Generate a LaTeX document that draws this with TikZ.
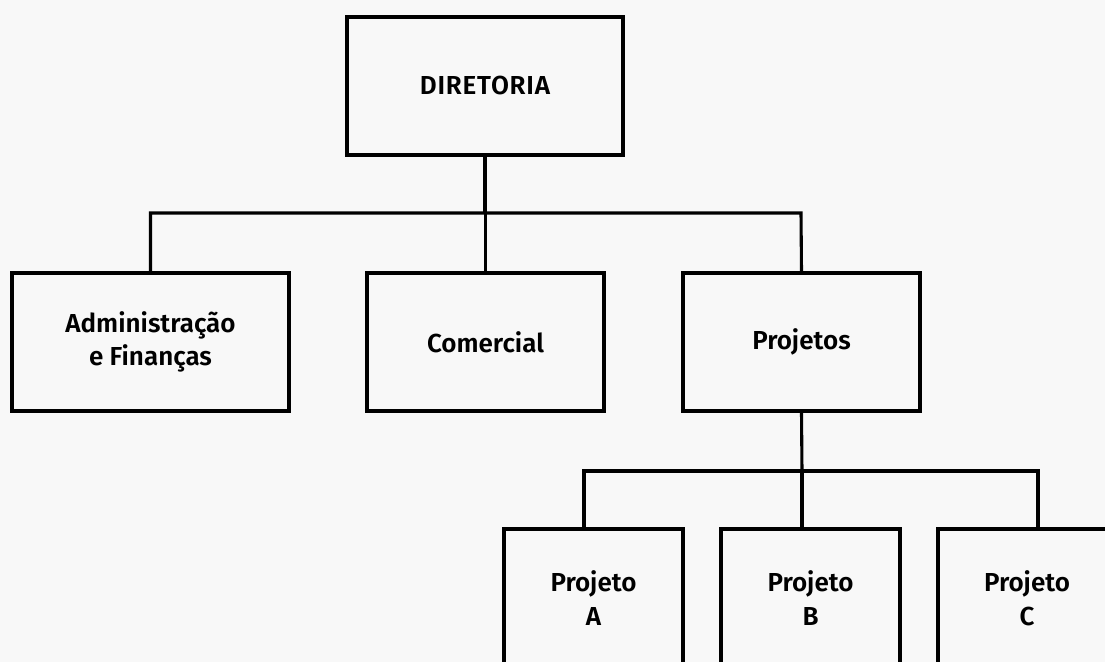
\documentclass[tikz,border=0pt]{standalone}
\usepackage{fontspec}
\setmainfont{Fira Sans}[BoldFont=* SemiBold]
\definecolor{bg}{RGB}{248,248,248}
\begin{document}
\begin{tikzpicture}[x=0.025cm,y=-0.025cm,
  box/.style={draw=black,line width=2.2pt,fill=bg,rectangle,minimum height=138*0.025cm,
    align=center,inner sep=0pt,font=\fontsize{18.5}{24}\selectfont\bfseries},
  conn/.style={draw=black,line width=2.2pt}]
\fill[bg] (0,0) rectangle (1105,662);
\useasboundingbox (0,0) rectangle (1105,662);
\clip (0,0) rectangle (1105,662);
\node[box,minimum width=276*0.025cm] (dir) at (485,86) {\addfontfeature{LetterSpace=3}DIRETORIA};
\node[box,minimum width=277*0.025cm] (adm) at (150.5,342) {Administração\\e Finanças};
\node[box,minimum width=237*0.025cm] (com) at (485.5,342) {Comercial};
\node[box,minimum width=237*0.025cm] (proj) at (801.5,342) {Projetos};
\node[box,minimum width=179*0.025cm] (pa) at (593.5,598) {Projeto\\A};
\node[box,minimum width=179*0.025cm] (pb) at (810.5,598) {Projeto\\B};
\node[box,minimum width=178*0.025cm] (pc) at (1027,598) {Projeto\\C};
\coordinate (h1) at (485,213);
\coordinate (h1l) at (150.5,213);
\coordinate (h1r) at (801,213);
\coordinate (h2) at (802,471);
\coordinate (h2l) at (584,471);
\coordinate (h2r) at (1038,471);
\coordinate (pat) at (584,529);
\coordinate (pbt) at (802,529);
\coordinate (pct) at (1038,529);
\draw[conn] (dir.south) -- (h1);
\draw[conn] (adm.north) -- (h1l) -- (h1r) -- (proj.north);
\draw[conn] (com.north) -- (com.north |- h1);
\draw[conn] (proj.south) -- (h2);
\draw[conn] (pat) -- (h2l) -- (h2r) -- (pct);
\draw[conn] (h2) -- (pbt);
\end{tikzpicture}
\end{document}
